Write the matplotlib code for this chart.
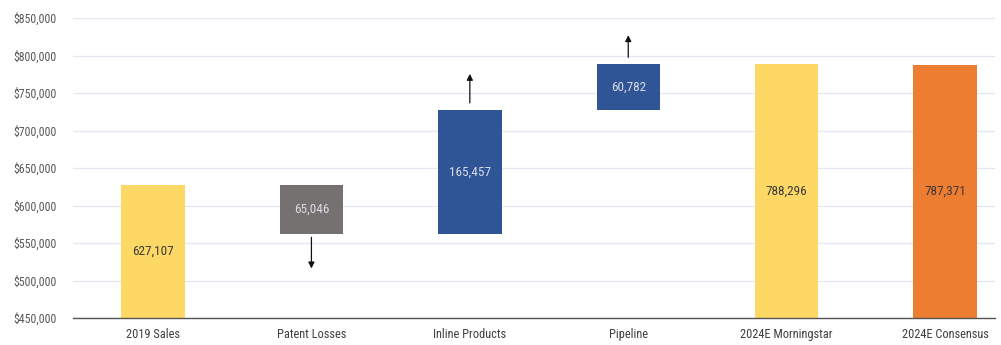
import matplotlib
matplotlib.use("Agg")
import matplotlib.pyplot as plt
from matplotlib import font_manager
from matplotlib.ticker import FuncFormatter

# Waterfall data (USD thousands)
categories = ["2019 Sales", "Patent Losses", "Inline Products", "Pipeline",
              "2024E Morningstar", "2024E Consensus"]
start_value = 627107
patent_losses = -65046
inline_products = 165457
pipeline = 60782
morningstar_2024 = 788296
consensus_2024 = 787371

steps = [patent_losses, inline_products, pipeline]

# Prefer a condensed sans-serif face
names = {f.name for f in font_manager.fontManager.ttflist}
family = "Roboto"
for cand in ("Roboto Condensed", "Archivo Narrow", "Asap Condensed",
             "Barlow Condensed", "Liberation Sans Narrow"):
    if cand in names:
        family = cand
        break
plt.rcParams["font.family"] = [family, "DejaVu Sans"]

YELLOW = "#FDD865"
GREY = "#767171"
BLUE = "#2F5597"
ORANGE = "#ED7D31"

fig = plt.figure(figsize=(10.01, 3.45), dpi=100)
ax = fig.add_axes([73 / 1001, 27 / 345, (995 - 73) / 1001, 300 / 345])

ymin, ymax = 450000, 850000
ax.set_ylim(ymin, ymax)
ax.set_xlim(-0.505, 5.315)
width = 0.40

bottoms, heights, colors = [], [], []
# starting total
bottoms.append(ymin); heights.append(start_value - ymin); colors.append(YELLOW)
level = start_value
for s in steps:
    lo = min(level, level + s)
    bottoms.append(lo); heights.append(abs(s))
    colors.append(GREY if s < 0 else BLUE)
    level += s
for total, c in [(morningstar_2024, YELLOW), (consensus_2024, ORANGE)]:
    bottoms.append(ymin); heights.append(total - ymin); colors.append(c)

x = list(range(len(categories)))
ax.bar(x, heights, bottom=bottoms, width=width, color=colors, zorder=3)

# value labels
values = [start_value] + [abs(s) for s in steps] + [morningstar_2024, consensus_2024]
for xi, b, h, v, c in zip(x, bottoms, heights, values, colors):
    tc = "#3A3A3A" if c in (YELLOW, ORANGE) else "#D9DCE6"
    ax.text(xi, b + h / 2, f"{v:,}", ha="center", va="center",
            fontsize=9.5, color=tc, zorder=4)

# direction arrows for the change bars: (gap from bar end, arrow length)
arrow_geom = [(4500, 41500), (9300, 38700), (9300, 29500)]
level = start_value
for i, (s, (gap, length)) in enumerate(zip(steps, arrow_geom), start=1):
    new = level + s
    sign = -1 if s < 0 else 1
    y0 = new + sign * gap
    y1 = y0 + sign * length
    ax.annotate("", xy=(i, y1), xytext=(i, y0),
                arrowprops=dict(arrowstyle="-|>", color="#111111", lw=0.9,
                                mutation_scale=9, shrinkA=0, shrinkB=0),
                zorder=5)
    level = new

ax.set_yticks(range(ymin, ymax + 1, 50000))
ax.yaxis.set_major_formatter(FuncFormatter(lambda v, p: f"${v:,.0f}"))
ax.set_xticks(x)
ax.set_xticklabels(categories)
ax.tick_params(axis="y", length=0, pad=11.5, labelsize=8.6, labelcolor="#595959")
ax.tick_params(axis="x", length=0, pad=7, labelsize=8.9, labelcolor="#404040")

ax.grid(axis="y", color="#E4E7F4", lw=0.9, zorder=0)
for side in ("left", "right", "top"):
    ax.spines[side].set_visible(False)
ax.spines["bottom"].set_color("#555555")
ax.spines["bottom"].set_linewidth(1.0)
ax.spines["bottom"].set_zorder(6)

fig.savefig("out.png", dpi=100)
